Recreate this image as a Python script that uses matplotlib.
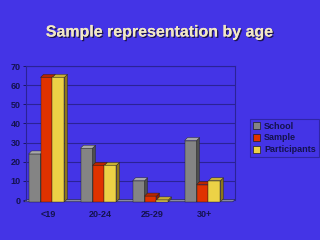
import matplotlib
matplotlib.use('Agg')
import matplotlib.pyplot as plt
import matplotlib.patheffects as pe
from matplotlib.patches import Polygon, Patch

plt.rcParams['font.family'] = ['Liberation Sans', 'DejaVu Sans']

categories = ['<19', '20-24', '25-29', '30+']
school = [25, 28, 11, 32]
sample = [65, 19, 3, 9]
participants = [65, 19, 1, 11]
series_names = ['School', 'Sample', 'Participants']
y_ticks = [0, 10, 20, 30, 40, 50, 60, 70]

BG = '#4434e6'
INK = '#14124e'
GRID = '#2b2296'

# front, side, top colours
COLS = [
    ('#848484', '#4e4e4e', '#a8a8a8'),
    ('#e03200', '#8c1c00', '#b82600'),
    ('#ecd246', '#8c7618', '#c8b034'),
]

fig = plt.figure(figsize=(3.2, 2.4), dpi=100)
fig.patch.set_facecolor(BG)
ax = fig.add_axes([26 / 320, 40 / 240, 209 / 320, 134 / 240])
ax.set_facecolor(BG)

ax.set_xlim(-0.423, 3.596)
ax.set_ylim(0, 70)

# depth of the 3D effect in data units (~3 px)
dx = 3 / 52
dy = 3 * 70 / 134

w = 0.23
offsets = [-w, 0, w]

# floor
floor = Polygon([(-0.47, -dy * 0.6), (3.55, -dy * 0.6), (3.55 + dx, 0.3), (-0.47 + dx, 0.3)],
                closed=True, facecolor='#8a8aa0', edgecolor=INK, lw=0.4,
                clip_on=False, zorder=2)
ax.add_patch(floor)

for si, vals in enumerate([school, sample, participants]):
    front, side, top = COLS[si]
    for ci, v in enumerate(vals):
        x0 = ci + offsets[si] - w / 2 - dx / 2
        y0 = -dy * 0.6
        y1 = v - dy * 0.6
        ax.add_patch(Polygon([(x0, y0), (x0 + w, y0), (x0 + w, y1), (x0, y1)],
                             facecolor=front, edgecolor='#202020', lw=0.3,
                             clip_on=False, zorder=4 + si))
        ax.add_patch(Polygon([(x0 + w, y0), (x0 + w + dx, y0 + dy), (x0 + w + dx, y1 + dy), (x0 + w, y1)],
                             facecolor=side, edgecolor='#202020', lw=0.3,
                             clip_on=False, zorder=4 + si))
        ax.add_patch(Polygon([(x0, y1), (x0 + w, y1), (x0 + w + dx, y1 + dy), (x0 + dx, y1 + dy)],
                             facecolor=top, edgecolor='#202020', lw=0.3,
                             clip_on=False, zorder=4 + si))

ax.set_yticks(y_ticks)
ax.set_yticklabels([str(t) for t in y_ticks], fontsize=6.5, fontweight='bold', color=INK)
ax.set_xticks(range(len(categories)))
ax.set_xticklabels(categories, fontsize=6.5, fontweight='bold', color=INK)
ax.tick_params(axis='x', length=0, pad=7)
ax.tick_params(axis='y', length=2, width=0.6, color=INK, pad=2)
ax.yaxis.grid(True, color=GRID, lw=0.8)
ax.set_axisbelow(True)
for s in ['left', 'right', 'top']:
    ax.spines[s].set_color(GRID)
    ax.spines[s].set_linewidth(0.8)
ax.spines['bottom'].set_visible(False)

handles = [Patch(facecolor=c[0], edgecolor='#202020', lw=0.5) for c in COLS]
leg = fig.legend(handles, series_names, loc='center left',
                 bbox_to_anchor=(250 / 320, 1 - 138 / 240),
                 prop={'size': 6.5, 'weight': 'bold'}, labelcolor=INK,
                 frameon=True, fancybox=False, facecolor=BG, edgecolor=GRID,
                 handlelength=0.8, handleheight=0.8, handletextpad=0.4,
                 labelspacing=0.3, borderpad=0.35, borderaxespad=0)
leg.get_frame().set_linewidth(0.8)

fig.text(0.5, 1 - 32 / 240, 'Sample representation by age', ha='center', va='center',
         fontsize=11.5, fontweight='bold', color='#f2e8c4',
         path_effects=[pe.withSimplePatchShadow(offset=(1, -1), shadow_rgbFace='#1a1440', alpha=0.9),
                       pe.Normal()])

fig.savefig('out.png', dpi=100, facecolor=fig.get_facecolor())
